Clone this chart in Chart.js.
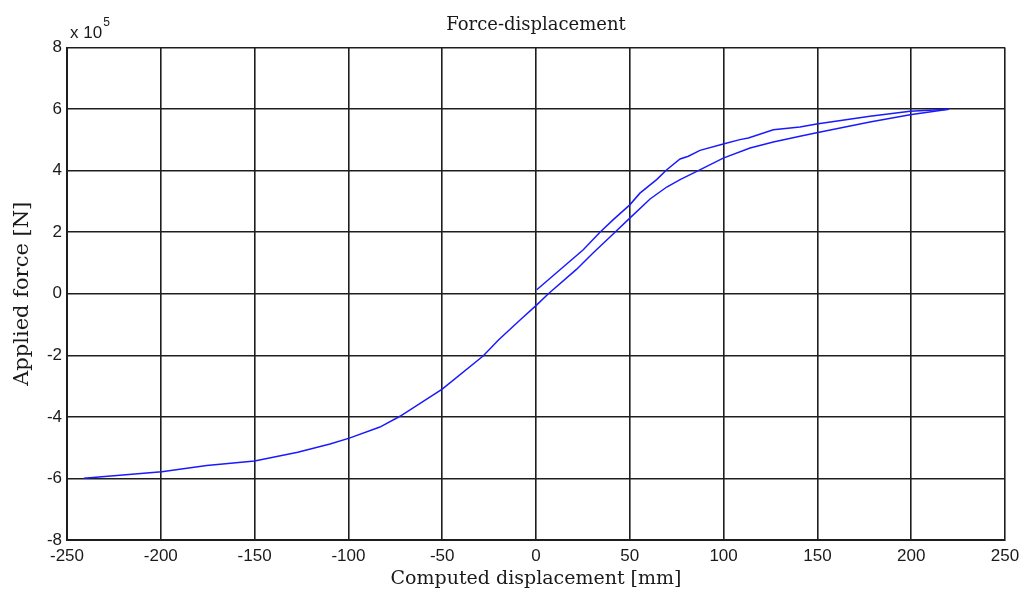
<!DOCTYPE html>
<html>
<head>
<meta charset="utf-8">
<script src="https://cdn.jsdelivr.net/npm/chart.js@4/dist/chart.umd.min.js"></script>
<style>
  html, body { margin: 0; padding: 0; background: #fff; }
  #wrap { width: 1021px; height: 591px; }
</style>
</head>
<body>
<div id="wrap"><canvas id="graphCanvas" width="1021" height="591"></canvas></div>
<script>
// displacement in mm, force in units of 10^5 N (as on the axis)
const upperDisp  = [0.4, 12.8, 25.2, 34.1, 41.2, 50, 55.4, 64.3, 69.7, 76.8, 81.2, 87.4, 99.8, 108.7, 113.2, 126.5, 140.7, 149.6, 178, 199.4, 220];
const upperForce = [0.13, 0.78, 1.43, 2.0, 2.41, 2.89, 3.27, 3.71, 4.03, 4.38, 4.47, 4.66, 4.87, 5.01, 5.06, 5.33, 5.42, 5.52, 5.77, 5.93, 6.0];

const lowerDisp  = [220, 199.4, 178, 149.6, 140.7, 126.5, 114.1, 99.8, 85.7, 76.8, 69.7, 60.8, 50, 42.1, 30, 21.7, 6.6, 0.4, -8.5, -20, -28.2, -50, -72.5, -83.2, -99.5, -109.8, -127, -150, -175.5, -199.5, -241];
const lowerForce = [6.0, 5.82, 5.58, 5.23, 5.12, 4.93, 4.74, 4.41, 3.98, 3.71, 3.47, 3.08, 2.46, 2.0, 1.3, 0.8, 0, -0.36, -0.85, -1.5, -2.02, -3.10, -3.98, -4.33, -4.69, -4.88, -5.15, -5.43, -5.58, -5.78, -5.99];

const xTicks = [-250, -200, -150, -100, -50, 0, 50, 100, 150, 200, 250];
const yTicks = [-8, -6, -4, -2, 0, 2, 4, 6, 8];

const toPoints = (xs, ys) => xs.map((x, i) => ({ x: x, y: ys[i] }));

const serif = 'DejaVu Serif';
const sans = 'Liberation Sans';
const textColor = '#1a1a1a';

// "x 10^5" exponent label above the y axis
const exponentLabel = {
    id: 'exponentLabel',
    afterDraw(chart) {
        const c = chart.ctx;
        const left = chart.chartArea.left;
        c.save();
        c.fillStyle = textColor;
        c.textBaseline = 'alphabetic';
        c.font = '17px ' + sans;
        c.fillText('x 10', left + 3, 38);
        const w = c.measureText('x 10').width;
        c.font = '12px ' + sans;
        c.fillText('5', left + 4 + w, 26);
        c.restore();
    }
};

new Chart(document.getElementById('graphCanvas').getContext('2d'), {
    type: 'scatter',
    data: {
        datasets: [
            {
                label: 'loading',
                data: toPoints(upperDisp, upperForce),
                showLine: true,
                borderColor: '#1a1aff',
                borderWidth: 1.5,
                pointRadius: 0,
                tension: 0
            },
            {
                label: 'unloading',
                data: toPoints(lowerDisp, lowerForce),
                showLine: true,
                borderColor: '#1a1aff',
                borderWidth: 1.5,
                pointRadius: 0,
                tension: 0
            }
        ]
    },
    options: {
        responsive: false,
        animation: false,
        layout: { padding: { left: 0, right: 16, top: 0, bottom: 0 } },
        plugins: {
            legend: { display: false },
            tooltip: { enabled: false },
            title: {
                display: true,
                text: 'Force-displacement',
                fullSize: false,
                color: textColor,
                font: { family: serif, size: 18, weight: 'normal' },
                padding: { top: 15, bottom: 11 }
            }
        },
        scales: {
            x: {
                type: 'linear',
                min: -250,
                max: 250,
                afterBuildTicks: s => { s.ticks = xTicks.map(v => ({ value: v })); },
                afterFit: s => { s.height = 51; s.paddingLeft = 0; s.paddingRight = 0; },
                ticks: {
                    color: textColor,
                    font: { family: sans, size: 17 },
                    padding: 6,
                    maxRotation: 0
                },
                grid: { color: '#1e1e1e', lineWidth: 1.6, drawTicks: false },
                border: { color: '#1e1e1e', width: 2 },
                title: {
                    display: true,
                    text: 'Computed displacement [mm]',
                    color: textColor,
                    font: { family: serif, size: 19, weight: 'normal' },
                    padding: { top: 0, bottom: 1 }
                }
            },
            y: {
                type: 'linear',
                min: -8,
                max: 8,
                afterBuildTicks: s => { s.ticks = yTicks.map(v => ({ value: v })); },
                afterFit: s => { s.width = 67; s.paddingTop = 0; s.paddingBottom = 0; },
                ticks: {
                    color: textColor,
                    font: { family: sans, size: 17 },
                    padding: 5
                },
                grid: { color: '#1e1e1e', lineWidth: 1.6, drawTicks: false },
                border: { color: '#1e1e1e', width: 2 },
                title: {
                    display: true,
                    text: 'Applied force [N]',
                    color: textColor,
                    font: { family: serif, size: 21, weight: 'normal' },
                    padding: { top: 10, bottom: 0 }
                }
            }
        }
    },
    plugins: [exponentLabel]
});
</script>
</body>
</html>
